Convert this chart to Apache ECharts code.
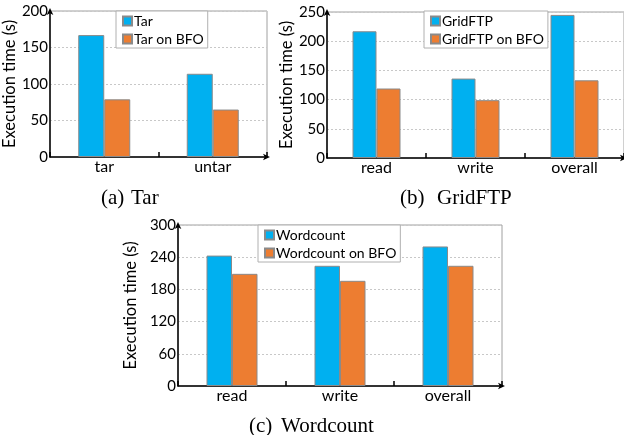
<!DOCTYPE html>
<html><head><meta charset="utf-8">
<script src="https://cdn.jsdelivr.net/npm/echarts@6/dist/echarts.min.js"></script>
<style>html,body{margin:0;padding:0;background:#fff}#c{width:624px;height:435px}</style>
</head><body><div id="c"></div>
<script>
const catsA = ['tar', 'untar'];
const tarVals = [167, 114];
const tarBfoVals = [79, 65];
const ticksA = [0, 50, 100, 150, 200];

const catsB = ['read', 'write', 'overall'];
const gridVals = [217, 136, 245];
const gridBfoVals = [119, 99, 133];
const ticksB = [0, 50, 100, 150, 200, 250];

const catsC = ['read', 'write', 'overall'];
const wordVals = [243, 224, 260];
const wordBfoVals = [209, 196, 224];
const ticksC = [0, 60, 120, 180, 240, 300];

const BLUE = '#00B0F0', ORANGE = '#ED7D31';
const FONT = 'Lato';
const CAP = '21px "Liberation Serif"';

const chart = echarts.init(document.getElementById('c'), null, {renderer: 'canvas'});

function yAxis(gi, ticks, nameGap) {
  return {
    type: 'value', gridIndex: gi, min: ticks[0], max: ticks[ticks.length - 1],
    interval: ticks[1] - ticks[0],
    name: 'Execution time (s)', nameLocation: 'middle', nameGap: nameGap,
    nameTextStyle: {fontFamily: FONT, fontSize: 16.5, color: '#000'},
    axisLine: {show: true, lineStyle: {color: '#000', width: 1.5}, symbol: ['none', 'arrow'], symbolSize: [5, 7], symbolOffset: [0, 3]},
    axisTick: {show: false},
    axisLabel: {fontFamily: FONT, fontSize: 15, color: '#000', margin: 2},
    splitLine: {show: true, lineStyle: {color: '#c8c8c8', type: [2, 2], width: 1}}
  };
}
function xAxis(gi, cats) {
  return {
    type: 'category', gridIndex: gi, data: cats, boundaryGap: true,
    axisLine: {show: true, lineStyle: {color: '#000', width: 1.5}, symbol: ['none', 'arrow'], symbolSize: [5, 7], symbolOffset: [0, 3]},
    axisTick: {show: true, inside: true, length: 5, lineStyle: {color: '#000', width: 1.5}},
    axisLabel: {fontFamily: FONT, fontSize: 16, color: '#000', margin: 2},
    splitLine: {show: false}
  };
}
function bar(name, data, gi, color, w) {
  return {
    type: 'bar', name: name, data: data, xAxisIndex: gi, yAxisIndex: gi,
    barWidth: w, barGap: '0%',
    itemStyle: {color: color, borderColor: '#8a8a8a', borderWidth: 1},
    emphasis: {disabled: true}, animation: false
  };
}
function legend(names, left, top) {
  return {
    data: names, orient: 'vertical', left: left, top: top,
    itemWidth: 9, itemHeight: 9, itemGap: 4, padding: [3, 4, 2, 6],
    borderColor: '#b0b0b0', borderWidth: 1, backgroundColor: '#fff',
    textStyle: {fontFamily: FONT, fontSize: 14, color: '#000', padding: [0, 0, 0, -3]},
    icon: 'rect', selectedMode: false
  };
}
function cap(text, left, top) {
  return {type: 'text', left: left, top: top, style: {text: text, font: CAP, fill: '#000'}};
}

const option = {
  animation: false,
  grid: [
    {left: 50, top: 11, width: 217, height: 146, show: true, borderColor: '#a0a0a0', borderWidth: 1},
    {left: 327, top: 12, width: 300, height: 146, show: true, borderColor: '#a0a0a0', borderWidth: 1},
    {left: 178, top: 225, width: 324, height: 161, show: true, borderColor: '#a0a0a0', borderWidth: 1}
  ],
  xAxis: [xAxis(0, catsA), xAxis(1, catsB), xAxis(2, catsC)],
  yAxis: [yAxis(0, ticksA, 27), yAxis(1, ticksB, 27), yAxis(2, ticksC, 29)],
  legend: [
    legend(['Tar', 'Tar on BFO'], 116, 11),
    legend(['GridFTP', 'GridFTP on BFO'], 424, 11),
    legend(['Wordcount', 'Wordcount on BFO'], 258, 225)
  ],
  series: [
    bar('Tar', tarVals, 0, BLUE, 26),
    bar('Tar on BFO', tarBfoVals, 0, ORANGE, 26),
    bar('GridFTP', gridVals, 1, BLUE, 24),
    bar('GridFTP on BFO', gridBfoVals, 1, ORANGE, 24),
    bar('Wordcount', wordVals, 2, BLUE, 25.5),
    bar('Wordcount on BFO', wordBfoVals, 2, ORANGE, 25.5)
  ],
  graphic: [
    cap('(a)', 101, 188), cap('Tar', 131, 188),
    cap('(b)', 400, 188), cap('GridFTP', 437, 188),
    cap('(c)', 249, 416), cap('Wordcount', 281, 416)
  ]
};
chart.setOption(option);
</script>
</body></html>
